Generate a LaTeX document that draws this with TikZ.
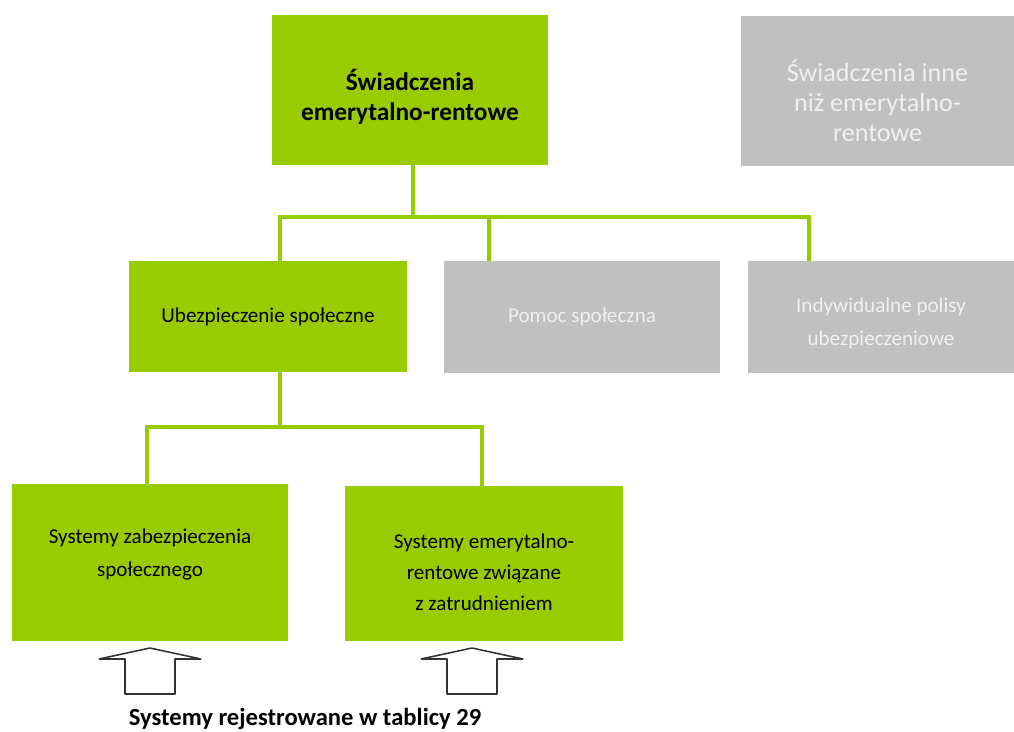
\documentclass[tikz,border=0pt]{standalone}
\usepackage{fontspec}
\setmainfont{Carlito}
\usetikzlibrary{positioning}
\definecolor{leafgreen}{HTML}{99CC00}
\definecolor{palegray}{HTML}{C0C0C0}

\begin{document}
\begin{tikzpicture}[x=0.025cm,y=-0.025cm,
    greenbox/.style={rectangle,fill=leafgreen,text=black,align=center,inner sep=0pt,
      font=\fontsize{15}{23.4}\selectfont},
    graybox/.style={rectangle,fill=palegray,text=white!94!black,align=center,inner sep=0pt,
      font=\fontsize{15}{23.4}\selectfont},
    boxtext/.style={align=center,inner sep=0pt,font=\fontsize{15}{23.4}\selectfont},
    link/.style={draw=leafgreen,line width=2.2pt,line join=miter},
]
\tikzset{
  pics/blockarrow/.style={
    code={
      \draw[pic actions] (0,0) -- (51,11) -- (25,11) -- (25,46) -- (-25,46)
        -- (-25,11) -- (-51,11) -- cycle;
    }
  }
}
\useasboundingbox (0,0) rectangle (1014,731);
% top row
\node[greenbox,minimum width=6.9cm,minimum height=3.75cm] (swiad) at (410,90) {};
\node[boxtext,font=\fontsize{18}{21.3}\selectfont\bfseries] (swiadt)
  at ([yshift=-5pt]swiad.center) {Świadczenia\\emerytalno-rentowe};
\node[graybox,minimum width=6.825cm,minimum height=3.75cm] (inne) at (877.5,91) {};
\node[boxtext,text=white!94!black,font=\fontsize{18.6}{21.3}\selectfont] (innet)
  at ([yshift=-7pt]inne.center) {Świadczenia inne\\niż emerytalno-\\rentowe};
% middle row
\node[greenbox,minimum width=6.95cm,minimum height=2.775cm] (ubezp) at (268,316.5)
  {Ubezpieczenie społeczne};
\node[graybox,minimum width=6.9cm,minimum height=2.8cm] (pomoc) at (582,317)
  {Pomoc społeczna};
\node[graybox,minimum width=6.65cm,minimum height=2.8cm] (polisy) at (881,317) {};
\node[boxtext,text=white!94!black] (polisyt) at ([yshift=-4.3pt]polisy.center)
  {Indywidualne polisy\\ubezpieczeniowe};
% bottom row
\node[greenbox,minimum width=6.9cm,minimum height=3.925cm] (zabezp) at (150,562.5) {};
\node[boxtext] (zabezpt) at ([yshift=5.7pt]zabezp.center)
  {Systemy zabezpieczenia\\społecznego};
\node[greenbox,minimum width=6.95cm,minimum height=3.875cm] (zatrud) at (484,563.5) {};
\node[boxtext,font=\fontsize{15}{22}\selectfont] (zatrudt) at ([yshift=-6.4pt]zatrud.center)
  {Systemy emerytalno-\\rentowe związane\\z zatrudnieniem};

% connectors
\coordinate (hub) at (413,217);
\coordinate (d1) at (280,217);
\coordinate (d2) at (489,217);
\coordinate (d3) at (809,217);
\draw[link] (hub |- swiad.south) -- (hub);
\draw[link] (d1 |- ubezp.north) -- (d1) -- (d3) -- (d3 |- polisy.north);
\draw[link] (d2) -- (d2 |- pomoc.north);
\coordinate (hub2) at (280,427);
\coordinate (e1) at (147,427);
\coordinate (e2) at (482,427);
\draw[link] (hub2 |- ubezp.south) -- (hub2);
\draw[link] (e1 |- zabezp.north) -- (e1) -- (e2) -- (e2 |- zatrud.north);

% arrows
\draw[black!80,line width=1.1pt,line join=bevel] (150,648) pic{blockarrow};
\draw[black!80,line width=1.1pt,line join=bevel] (472,648) pic{blockarrow};
\node[anchor=base,font=\fontsize{17.5}{20}\selectfont\bfseries] (rejestr) at (305,725)
  {Systemy rejestrowane w tablicy 29};
\end{tikzpicture}
\end{document}
